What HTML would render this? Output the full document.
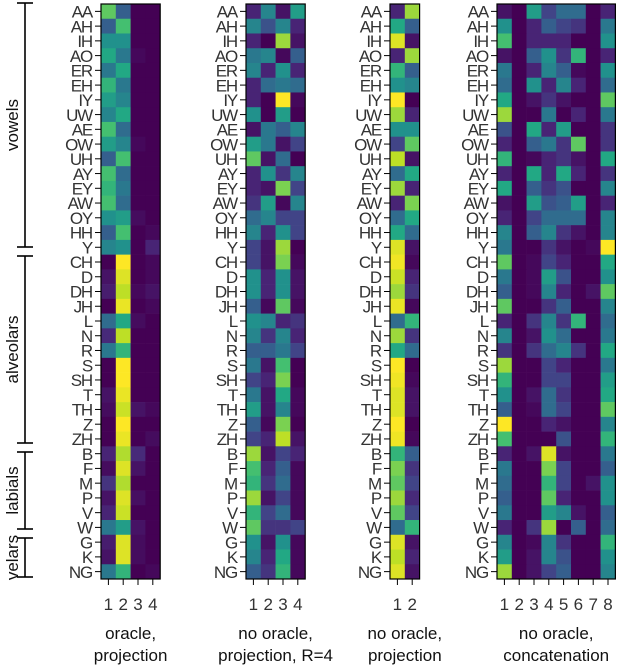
<!DOCTYPE html>
<html><head><meta charset="utf-8"><style>
body{margin:0;background:#fff;width:620px;height:668px;overflow:hidden}
svg{display:block;font-family:"Liberation Sans","DejaVu Sans",sans-serif}
</style></head><body>
<svg id="chart" width="620" height="668" viewBox="0 0 620 668"></svg>
<script>
const phonemes=["AA","AH","IH","AO","ER","EH","IY","UW","AE","OW","UH","AY","EY","AW","OY","HH","Y","CH","D","DH","JH","L","N","R","S","SH","T","TH","Z","ZH","B","F","M","P","V","W","G","K","NG"];
const panelTitles=[["oracle,","projection"],["no oracle,","projection, R=4"],["no oracle,","projection"],["no oracle,","concatenation"]];
const oracleProj=[
[.75,.3,0,0],[.3,.7,0,0],[.5,.5,0,0],[.6,.4,.02,0],[.4,.6,0,0],[.65,.4,0,0],[.55,.45,0,0],[.45,.6,0,0],[.7,.35,0,0],[.55,.45,.02,0],[.3,.7,0,0],[.7,.35,0,0],[.65,.4,0,0],[.7,.35,0,0],[.5,.55,.03,0],[.3,.7,0,.02],[.45,.5,0,.1],
[0,1,0,.02],[.05,.95,0,.02],[.08,.9,.02,.05],[0,.97,0,.02],[.35,.6,.03,0],[.12,.9,0,0],[.4,.65,0,0],[0,1,0,0],[0,1,0,0],[.05,.97,0,0],[.03,.92,.05,.02],[0,1,0,0],[0,.97,0,.03],
[.1,.88,.12,0],[.03,.95,.05,0],[.15,.88,0,0],[.05,.95,.04,0],[.1,.92,0,0],[.4,.55,.05,0],[.08,.95,.03,0],[.05,.95,.03,0],[.4,.65,0,.02]];
const noOracleR4=[
[.1,.45,.05,.55],[.45,.25,.45,.1],[.1,0,.85,.05],[.4,.45,.02,.3],[.45,.1,.5,.1],[.1,.35,.4,.35],[.1,0,1,.02],[.5,0,.55,0],[.05,.4,.3,.45],[.55,.4,.05,.2],[.75,.05,.35,0],[.1,.5,.15,.45],[.1,.05,.8,.2],[.15,.55,.02,.45],[.35,.45,.2,.2],[.45,.1,.5,.2],[.2,.05,.85,0],
[.2,.05,.8,.02],[.5,.1,.5,.05],[.5,.1,.5,.05],[.3,.02,.75,.02],[.5,.45,.1,.15],[.45,.15,.45,.1],[.3,.3,.4,.2],[.4,.05,.7,0],[.2,.1,.8,0],[.4,.05,.6,.02],[.55,.05,.45,.02],[.3,.02,.8,0],[.2,.1,.9,.05],
[.85,.05,.2,.1],[.7,.1,.3,.02],[.65,.15,.35,.02],[.85,.05,.2,.02],[.65,.2,.35,.02],[.75,.15,.15,.2],[.5,.05,.5,.02],[.45,.1,.6,.02],[.3,.15,.65,.02]];
const noOracleProj=[
[.1,.85],[.6,.3],[.95,.05],[.1,.85],[.65,.3],[.5,.45],[1,0],[.85,.1],[.5,.5],[.2,.75],[.9,.05],[.35,.6],[.85,.1],[.1,.8],[.35,.6],[.6,.35],[.95,.05],
[.98,.02],[.92,.1],[.85,.15],[.97,.02],[.35,.65],[.85,.15],[.6,.35],[1,0],[.98,.02],[.95,.05],[.95,.05],[1,0],[.98,.02],
[.65,.3],[.8,.15],[.75,.2],[.85,.12],[.75,.2],[.35,.65],[.95,.05],[.9,.1],[.95,.05]];
const noOracleConcat=[
[.05,0,.55,.2,.35,.35,0,.1],[.5,0,.1,.3,.2,.15,0,.4],[.7,0,.1,.1,.1,0,0,.5],[.05,0,.3,.5,.15,.65,0,.1],[.4,0,.1,.45,.3,.02,0,.5],[.35,0,.5,.1,.45,.1,0,.35],[.6,0,.05,.15,.05,0,0,.75],[.85,0,0,.4,0,.1,0,.4],[.25,0,.6,.1,.55,0,0,.15],[.1,0,.3,.4,.15,.75,0,.15],[.65,0,.02,.1,.15,.05,0,.6],[.1,0,.6,.1,.6,.1,0,.15],[.6,0,.3,.15,.25,0,0,.45],[.05,0,.55,.25,.3,.55,0,.1],[.1,0,.2,.35,.35,.35,0,.45],[.45,0,.3,.45,.15,.05,0,.45],[.4,0,0,.15,.05,0,.02,1],
[.75,0,.02,.2,.1,0,0,.6],[.4,0,.02,.55,.25,0,0,.5],[.3,0,.02,.45,.1,0,.05,.75],[.75,0,0,.15,.3,0,0,.45],[.1,0,.15,.45,.15,.65,0,.35],[.45,0,.05,.5,.35,0,0,.4],[.15,0,.15,.35,.45,.15,0,.6],[.85,0,0,.2,.1,0,0,.4],[.65,0,0,.2,.2,0,0,.55],[.5,0,.05,.35,.15,0,0,.6],[.3,0,.02,.35,.2,0,0,.75],[1,0,0,.1,.05,0,0,.45],[.7,0,0,0,.25,0,0,.65],
[.1,0,.05,.95,.05,0,0,.4],[.4,0,0,.8,.2,0,0,.3],[.35,0,0,.65,.2,0,.05,.5],[.3,0,0,.75,.1,0,0,.5],[.4,0,0,.55,.45,.05,0,.3],[.1,0,.15,.85,0,.3,0,.35],[.45,0,.02,.45,.15,0,0,.65],[.55,0,.05,.45,.25,0,0,.5],[.85,0,.05,.2,.3,0,0,.45]];
const groupNames=["vowels","alveolars","labials","velars"];
const groupSizes=[17,13,6,3];

const NS="http://www.w3.org/2000/svg";
const svg=document.getElementById('chart');
function mk(t,a,p){const e=document.createElementNS(NS,t);for(const k in a)e.setAttribute(k,a[k]);(p||svg).appendChild(e);return e;}
const VIR=[[68,1,84],[72,36,117],[65,68,135],[53,95,141],[42,120,142],[33,145,140],[34,168,132],[68,191,112],[122,209,81],[189,223,38],[253,231,37]];
function viridis(v){v=Math.max(0,Math.min(1,v));const f=v*(VIR.length-1),i=Math.min(VIR.length-2,Math.floor(f)),t=f-i;const c=VIR[i].map((x,k)=>Math.round(x+(VIR[i+1][k]-x)*t));return `rgb(${c[0]},${c[1]},${c[2]})`;}
const topY=4,bottomY=579,rowH=(bottomY-topY)/phonemes.length,cellW=14.8;
const yScale=r=>topY+r*rowH;
const panels=[{x:101,data:oracleProj,name:'oracle-projection'},{x:246,data:noOracleR4,name:'no-oracle-projection-r4'},{x:390,data:noOracleProj,name:'no-oracle-projection'},{x:497,data:noOracleConcat,name:'no-oracle-concatenation'}];
panels.forEach((p,pi)=>{
  const g=mk('g',{});
  
  
  const nc=p.data[0].length;const xScale=c=>p.x+c*cellW;
  p.data.forEach((row,r)=>row.forEach((v,c)=>{
    const rc=mk('rect',{x:xScale(c),y:yScale(r),width:cellW+0.3,height:rowH+0.3,fill:viridis(v)},g);
    
    
  }));
  const fr=mk('rect',{x:p.x,y:topY,width:nc*cellW,height:bottomY-topY,fill:'none',stroke:'#000','stroke-width':1.2},g);
  
  
  phonemes.forEach((ph,r)=>{
    const y=yScale(r)+rowH/2;
    mk('line',{x1:p.x-6,x2:p.x,y1:y,y2:y,stroke:'#000','stroke-width':1},g);
    const t=mk('text',{x:p.x-9,y:y+6.2,'text-anchor':'end','font-size':17,fill:'#333','letter-spacing':'-1.2'},g);
    t.textContent=ph;
    
    
  });
  for(let c=0;c<nc;c++){
    const x=xScale(c)+cellW/2;
    mk('line',{x1:x,x2:x,y1:bottomY,y2:bottomY+6,stroke:'#000','stroke-width':1},g);
    const t=mk('text',{x:x,y:610,'text-anchor':'middle','font-size':17,fill:'#333'},g);
    t.textContent=String(c+1);
    
    
  }
  const cx=p.x+nc*cellW/2;
  panelTitles[pi].forEach((s,k)=>{
    const t=mk('text',{x:cx,y:639+k*22,'text-anchor':'middle','font-size':17,fill:'#111'},g);
    t.textContent=s;
    
    
  });
});
const bounds=[[3,247],[256,443],[452,529],[538,577]];
const gb=mk('g',{});


bounds.forEach((b,i)=>{
  mk('line',{x1:25,x2:25,y1:b[0],y2:b[1],stroke:'#000','stroke-width':1.6},gb);
  mk('line',{x1:17,x2:33,y1:b[0],y2:b[0],stroke:'#000','stroke-width':1.6},gb);
  mk('line',{x1:17,x2:33,y1:b[1],y2:b[1],stroke:'#000','stroke-width':1.6},gb);
  const cy=(b[0]+b[1])/2;
  const t=mk('text',{x:0,y:0,transform:`translate(18,${cy}) rotate(-90)`,'text-anchor':'middle','font-size':17,fill:'#111'},gb);
  t.textContent=groupNames[i];
  
  
});
</script>
</body></html>
